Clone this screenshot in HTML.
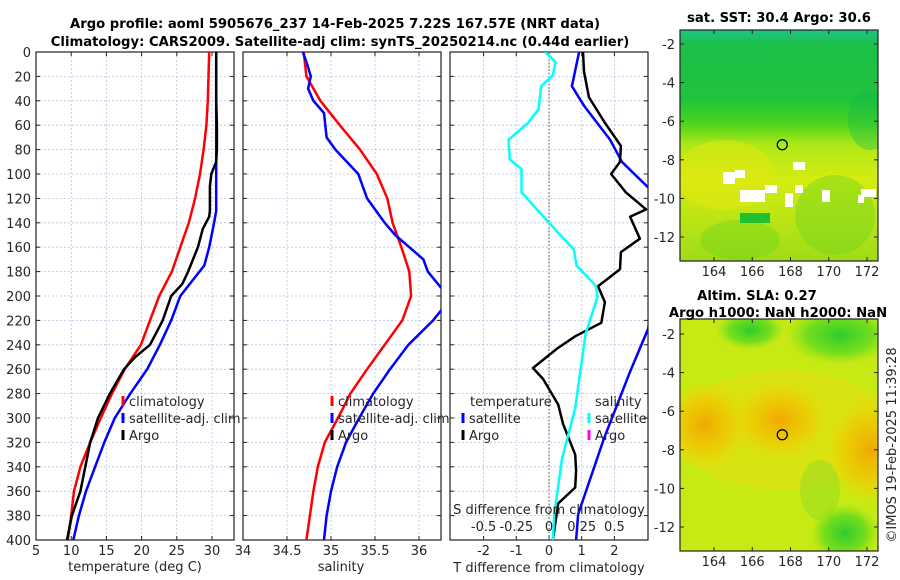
<!DOCTYPE html>
<html><head><meta charset="utf-8">
<style>
body{margin:0;background:#fff;}
svg{display:block;font-family:"DejaVu Sans","Liberation Sans",sans-serif;}
.tk{font-size:13px;fill:#262626;}
.tt{font-size:13.2px;font-weight:bold;fill:#000;}
</style></head><body>
<svg id="fig" width="900" height="580" viewBox="0 0 900 580">
<defs>
<linearGradient id="sstg" x1="0" y1="0" x2="0" y2="1">
<stop offset="0" stop-color="#1ec48c"/><stop offset="0.06" stop-color="#1cbf4a"/>
<stop offset="0.3" stop-color="#20c43a"/><stop offset="0.4" stop-color="#48d41e"/>
<stop offset="0.5" stop-color="#b0e818"/><stop offset="0.65" stop-color="#d4ec10"/>
<stop offset="1" stop-color="#a0dc18"/></linearGradient>
<radialGradient id="org"><stop offset="0" stop-color="#f2a800"/><stop offset="0.6" stop-color="#f0c800" stop-opacity="0.7"/><stop offset="1" stop-color="#f0d800" stop-opacity="0"/></radialGradient>
<radialGradient id="grn"><stop offset="0" stop-color="#2ccc2c"/><stop offset="0.6" stop-color="#50d820" stop-opacity="0.7"/><stop offset="1" stop-color="#80e018" stop-opacity="0"/></radialGradient>
<clipPath id="c1"><rect x="36" y="52" width="198" height="488"/></clipPath>
<clipPath id="c2"><rect x="243" y="52" width="198" height="488"/></clipPath>
<clipPath id="c3"><rect x="450" y="52" width="198" height="488"/></clipPath>
<clipPath id="cm1"><rect x="680" y="30" width="198" height="231"/></clipPath>
<clipPath id="cm2"><rect x="680" y="319" width="198" height="232"/></clipPath>
</defs>
<g id="root"></g>
</svg>
<script>
// ---- data ----
const depths = [0,20,40,60,80,100,120,140,160,180,200,220,240,260,280,300,320,340,360,380,400];
const tempClim = [29.6,29.5,29.4,29.2,28.8,28.3,27.6,26.7,25.5,24.3,22.5,21.2,19.9,17.6,15.8,14.2,12.7,11.3,10.4,10.0,9.5];
const tempSatDepths = [0,20,60,100,130,140,160,175,200,220,240,260,280,300,320,340,360,380,400];
const tempSat = [30.6,30.6,30.6,30.6,30.6,30.3,29.6,28.9,25.5,24.2,22.6,20.8,18.4,16.2,14.7,13.4,12.1,11.1,10.3];
const tempArgoDepths = [0,20,40,60,80,90,100,110,130,135,145,160,170,180,190,200,220,240,250,260,280,300,320,340,360,380,400];
const tempArgo = [30.6,30.6,30.6,30.7,30.7,30.6,29.9,29.7,29.7,29.6,28.7,28.0,27.3,26.6,25.8,24.2,23.0,21.2,19.1,17.5,15.5,13.8,12.7,12.0,11.3,10.1,9.4];
const salClim = [34.69,34.72,34.88,35.10,35.33,35.52,35.64,35.70,35.80,35.89,35.91,35.81,35.61,35.41,35.22,35.08,34.93,34.85,34.80,34.76,34.72];
const salSatDepths = [0,10,20,30,40,50,70,80,100,120,140,150,160,170,180,195,210,220,240,260,280,300,320,340,360,380,400];
const salSat = [34.68,34.73,34.77,34.74,34.80,34.92,34.95,35.05,35.31,35.41,35.61,35.73,35.89,36.05,36.10,36.27,36.27,36.16,35.88,35.67,35.48,35.32,35.17,35.07,35.00,34.95,34.92];
const dSalDepths = [0,8,19,28,47,58,72,88,96,115,140,162,175,192,201,231,292,333,379,400];
const dSalSat = [-0.03,0.05,0.03,-0.06,-0.08,-0.16,-0.31,-0.30,-0.21,-0.21,0,0.19,0.21,0.36,0.37,0.28,0.20,0.10,0.04,0.03];
const dTArgoDepths = [0,16,37,58,77,90,100,115,129,135,153,164,178,192,205,222,233,243,259,268,289,305,330,343,357,370,400];
const dTArgo = [1.04,1.07,1.22,1.71,2.2,2.17,1.9,2.35,2.97,2.48,2.78,2.2,2.17,1.5,1.71,1.6,0.8,0.25,-0.49,-0.18,0.28,0.43,0.8,0.83,0.8,0.28,0.12];
const dTSatDepths = [0,28,44,72,90,111,130,227,262,317,379,400];
const dTSat = [0.92,0.7,1.07,1.87,2.23,3.03,3.6,3.03,2.48,1.68,0.89,0.83];
const depthTicks = [0,20,40,60,80,100,120,140,160,180,200,220,240,260,280,300,320,340,360,380,400];
const tempTicks = [5,10,15,20,25,30];
const salTicks = [34,34.5,35,35.5,36];
const salTickLabels = ["34","34.5","35","35.5","36"];
const dTTicks = [-2,-1,0,1,2];
const dSTicks = [-0.5,-0.25,0,0.25,0.5];
const dSTickLabels = ["-0.5","-0.25","0","0.25","0.5"];
const latTicks = [-2,-4,-6,-8,-10,-12];
const lonTicks = [164,166,168,170,172];

// ---- scales ----
const Y0=52, Y1=540;
const yD = d => Y0 + d*(Y1-Y0)/400;
const xT = t => 36 + (t-5)*7.04;
const xS = s => 243 + (s-34)*88;
const xdT = t => 549 + t*32.7;
const xdS = s => 549 + s*130.8;
const ns='http://www.w3.org/2000/svg';
const root=document.getElementById('root');
function mk(tag,attrs,parent){const e=document.createElementNS(ns,tag);for(const k in attrs)e.setAttribute(k,attrs[k]);(parent||root).appendChild(e);return e;}
function txt(x,y,s,cls,anchor,parent){const e=mk('text',{x:x,y:y,class:cls,'text-anchor':anchor||'middle'},parent);e.textContent=s;return e;}
function line(xs,ds,xf,color,w,clip,name){
  const p=xs.map((v,i)=>(i?'L':'M')+xf(v).toFixed(1)+','+yD(ds[i]).toFixed(1)).join('');
  const e=mk('path',{d:p,fill:'none',stroke:color,'stroke-width':w,'stroke-linejoin':'round','clip-path':'url(#'+clip+')'});
  
  
  return e;
}
function panel(x0,vgrid,name){
  const g=mk('g',{});
  
  
  depthTicks.forEach(d=>{mk('line',{x1:x0,x2:x0+198,y1:yD(d),y2:yD(d),stroke:'#b8c0e0','stroke-width':0.8,'stroke-dasharray':'2,2'},g);
    mk('line',{x1:x0,x2:x0+4,y1:yD(d),y2:yD(d),stroke:'#222'},g);mk('line',{x1:x0+194,x2:x0+198,y1:yD(d),y2:yD(d),stroke:'#222'},g);});
  vgrid.forEach(x=>{mk('line',{x1:x,x2:x,y1:Y0,y2:Y1,stroke:'#b8c0e0','stroke-width':0.8,'stroke-dasharray':'2,2'},g);
    mk('line',{x1:x,x2:x,y1:Y1,y2:Y1-4,stroke:'#222'},g);mk('line',{x1:x,x2:x,y1:Y0,y2:Y0+4,stroke:'#222'},g);});
  mk('rect',{x:x0,y:Y0,width:198,height:Y1-Y0,fill:'none',stroke:'#222','stroke-width':1.2},g);
  return g;
}
// title
const t1=txt(335,28,'Argo profile: aoml 5905676_237 14-Feb-2025 7.22S 167.57E (NRT data)','tt');

const t2=txt(340,46,'Climatology: CARS2009. Satellite-adj clim: synTS_20250214.nc (0.44d earlier)','tt');


// panel 1
panel(36,tempTicks.map(xT),'temperature-panel');
depthTicks.forEach(d=>{const e=txt(31,yD(d)+5,String(d),'tk','end');});
tempTicks.forEach(t=>{const e=txt(xT(t),555,String(t),'tk');});
txt(135,571,'temperature (deg C)','tk');
line(tempClim,depths,xT,'#ff0000',2.5,'c1','temperature-climatology-line');
line(tempSat,tempSatDepths,xT,'#0000ff',2.5,'c1','temperature-satellite-line');
line(tempArgo,tempArgoDepths,xT,'#000000',2.5,'c1','temperature-argo-line');
// panel 2
panel(243,salTicks.map(xS),'salinity-panel');
salTicks.forEach((s,i)=>{const e=txt(xS(s),555,salTickLabels[i],'tk');});
txt(341,571,'salinity','tk');
line(salClim,depths,xS,'#ff0000',2.5,'c2','salinity-climatology-line');
line(salSat,salSatDepths,xS,'#0000ff',2.5,'c2','salinity-satellite-line');
// panel 3
panel(450,dTTicks.map(xdT),'difference-panel');
mk('line',{x1:549,x2:549,y1:Y0,y2:Y1,stroke:'#555','stroke-width':1,'stroke-dasharray':'1.5,2'});
dTTicks.forEach(t=>{const e=txt(xdT(t),555,String(t),'tk');});
txt(549,572,'T difference from climatology','tk');
line(dTSat,dTSatDepths,xdT,'#0000ff',2.5,'c3','t-diff-satellite-line');
line(dTArgo,dTArgoDepths,xdT,'#000000',2.5,'c3','t-diff-argo-line');
line(dSalSat,dSalDepths,xdS,'#00ffff',2.5,'c3','s-diff-satellite-line');
txt(549,514,'S difference from climatology','tk');
dSTicks.forEach((s,i)=>{const e=txt(xdS(s),531,dSTickLabels[i],'tk');});

// legends
function leg(x,y,color,label,name){const g=mk('g',{});
  mk('rect',{x:x-1.5,y:y-10,width:3,height:10,fill:color},g);txt(x+6,y,label,'tk','start',g);}
leg(123,406,'#ff0000','climatology','legend-climatology');
leg(123,423,'#0000ff','satellite-adj. clim','legend-satellite');
leg(123,440,'#000000','Argo','legend-argo');
leg(332,406,'#ff0000','climatology','legend-sal-climatology');
leg(332,423,'#0000ff','satellite-adj. clim','legend-sal-satellite');
leg(332,440,'#000000','Argo','legend-sal-argo');
txt(470,406,'temperature','tk','start');
leg(463,423,'#0000ff','satellite','legend-t-satellite');
leg(463,440,'#000000','Argo','legend-t-argo');
txt(595,406,'salinity','tk','start');
leg(589,423,'#00ffff','satellite','legend-s-satellite');
leg(589,440,'#ff00ff','Argo','legend-s-argo');

// maps
function lonX(l){return 714+(l-164)*(867-714)/8;}
function mapAxes(top,bottom,latY,name){
  const g=mk('g',{});
  latTicks.forEach(l=>{const y=latY(l);mk('line',{x1:680,x2:684,y1:y,y2:y,stroke:'#222'},g);mk('line',{x1:874,x2:878,y1:y,y2:y,stroke:'#222'},g);txt(675,y+5,String(l),'tk','end',g);});
  lonTicks.forEach(l=>{const x=lonX(l);mk('line',{x1:x,x2:x,y1:bottom,y2:bottom-4,stroke:'#222'},g);mk('line',{x1:x,x2:x,y1:top,y2:top+4,stroke:'#222'},g);txt(x,bottom+15,String(l),'tk','middle',g);});
  mk('rect',{x:680,y:top,width:198,height:bottom-top,fill:'none',stroke:'#222','stroke-width':1.2},g);
  mk('circle',{cx:lonX(167.57),cy:latY(-7.22),r:5,fill:'none',stroke:'#000','stroke-width':1.3},g);
}
// SST map
const sst=mk('g',{'clip-path':'url(#cm1)'});
mk('rect',{x:680,y:30,width:198,height:231,fill:'url(#sstg)'},sst);
mk('ellipse',{cx:725,cy:175,rx:50,ry:35,fill:'#e4e810',opacity:0.5},sst);
mk('ellipse',{cx:835,cy:215,rx:40,ry:40,fill:'#70d420',opacity:0.45},sst);
mk('ellipse',{cx:870,cy:120,rx:22,ry:30,fill:'#10b850',opacity:0.35},sst);
mk('ellipse',{cx:740,cy:240,rx:40,ry:20,fill:'#60d020',opacity:0.35},sst);
[[723,172,12,12],[735,170,10,8],[740,190,25,12],[765,185,12,8],[793,162,12,8],[785,193,8,14],[795,185,8,8],[822,190,8,12],[861,189,15,8],[858,195,6,8]].forEach(r=>mk('rect',{x:r[0],y:r[1],width:r[2],height:r[3],fill:'#fff'},sst));
mk('rect',{x:740,y:213,width:30,height:10,fill:'#20c030'},sst);
mapAxes(30,261,l=>44+(l+2)*(237-44)/-10,'sst-map-axes');
const st=txt(779,22,'sat. SST: 30.4 Argo: 30.6','tt');
// SLA map
const sla=mk('g',{'clip-path':'url(#cm2)'});
mk('rect',{x:680,y:319,width:198,height:232,fill:'#c8ea14'},sla);
mk('ellipse',{cx:785,cy:430,rx:110,ry:60,fill:'#e8dc10',opacity:0.5},sla);
mk('ellipse',{cx:705,cy:425,rx:45,ry:45,fill:'url(#org)'},sla);
mk('ellipse',{cx:780,cy:420,rx:50,ry:40,fill:'url(#org)'},sla);
mk('ellipse',{cx:870,cy:450,rx:45,ry:55,fill:'url(#org)'},sla);
mk('ellipse',{cx:840,cy:335,rx:55,ry:30,fill:'url(#grn)'},sla);
mk('ellipse',{cx:750,cy:330,rx:35,ry:20,fill:'url(#grn)'},sla);
mk('ellipse',{cx:845,cy:533,rx:35,ry:30,fill:'url(#grn)'},sla);
mk('ellipse',{cx:820,cy:490,rx:20,ry:30,fill:'#90dc20',opacity:0.5},sla);
mapAxes(319,551,l=>334+(l+2)*(527-334)/-10,'sla-map-axes');
const s1=txt(757,300,'Altim. SLA: 0.27','tt');
const s2=txt(778,317,'Argo h1000: NaN h2000: NaN','tt');
const cr=txt(0,0,'©IMOS 19-Feb-2025 11:39:28','tk');cr.setAttribute('transform','translate(896,445) rotate(-90)');

</script>
</body></html>
